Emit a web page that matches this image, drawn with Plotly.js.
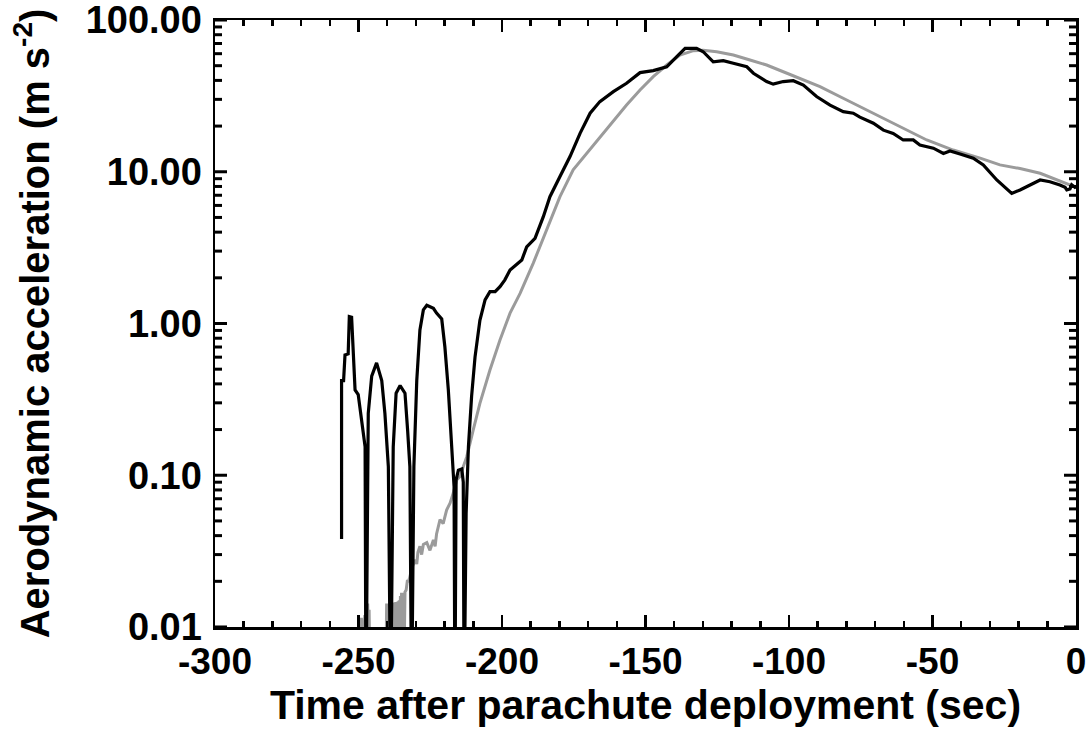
<!DOCTYPE html>
<html>
<head>
<meta charset="utf-8">
<script src="https://cdn.plot.ly/plotly-3.0.1.min.js"></script>
<style>html,body{margin:0;padding:0;background:#fff;}#chart{width:1087px;height:731px;}</style>
</head>
<body>
<div id="chart"></div>
<script>
// Measured aerodynamic acceleration (black)
const blackTime = [
  -255.9, -255.9, -255.2, -254.7, -253.6, -253.2, -252.4, -251.8, -251.2, -250.1,
  -248.9, -247.7, -247.4, -246.6, -245.4, -243.7, -241.9, -240.8, -239.6, -238.8,
  -237.9, -236.9, -235.5, -233.8, -232.9, -232.1, -231.5, -230.7, -229.7, -228.6,
  -227.4, -226.2, -223.9, -222.8, -221.0, -219.9, -218.7, -217.5, -216.7, -216.4,
  -216.0, -215.2, -214.0, -213.5, -213.2, -212.5, -211.7, -210.6, -209.4, -207.7,
  -205.9, -204.2, -202.4, -200.7, -199.0, -197.2, -193.1, -191.4, -188.5, -185.6,
  -183.3, -179.8, -176.3, -172.8, -169.3, -165.9, -161.2, -156.6, -151.9, -147.3,
  -142.6, -139.1, -136.2, -132.2, -129.9, -126.4, -122.9, -119.4, -114.7, -112.4,
  -107.8, -105.5, -102.0, -98.5, -95.0, -90.4, -85.7, -81.1, -77.6, -75.3,
  -70.6, -67.1, -63.7, -60.2, -56.7, -54.4, -49.7, -46.2, -43.9, -40.4,
  -35.8, -32.3, -27.6, -22.4, -19.5, -12.5, -9.1, -5.6, -3.8, -3.2,
  -2.1, -1.5, -0.4, 0
];
const blackAccel = [
  0.038, 0.42, 0.42, 0.62, 0.63, 1.11, 1.10, 0.70, 0.365, 0.34,
  0.23, 0.154, 0.003, 0.256, 0.45, 0.55, 0.42, 0.256, 0.114, 0.003,
  0.154, 0.347, 0.39, 0.347, 0.20, 0.114, 0.003, 0.114, 0.42, 0.906,
  1.23, 1.32, 1.26, 1.17, 1.07, 0.70, 0.365, 0.154, 0.084, 0.003,
  0.093, 0.108, 0.110, 0.09, 0.003, 0.056, 0.154, 0.33, 0.60, 1.05,
  1.43, 1.62, 1.62, 1.75, 1.94, 2.25, 2.62, 3.2, 3.64, 5.06,
  6.85, 9.3, 12.6, 17.9, 24.3, 29.0, 33.7, 38.3, 45.0, 46.4,
  49.2, 57.3, 65.0, 65.0, 61.8, 53.0, 54.0, 51.9, 49.2, 44.6,
  39.3, 37.8, 39.3, 39.8, 37.3, 31.3, 27.5, 24.9, 24.3, 22.9,
  20.9, 18.8, 17.9, 16.2, 16.2, 15.0, 14.3, 13.2, 13.7, 13.1,
  12.3, 11.1, 8.83, 7.2, 7.59, 8.83, 8.6, 8.18, 7.9, 7.6,
  7.7, 8.2, 7.9, 8.0
];

// Model aerodynamic acceleration (grey)
const greyTime = [
  -249.6, -249.0, -248.4, -247.8, -247.1, -246.8, -246.5, -246.3, -246.0,
  -240.4, -240.2, -240.0, -239.8, -239.6, -239.4, -239.2, -239.0, -238.8, -238.6,
  -238.4, -238.2, -238.0, -237.8, -237.6, -237.4, -237.2, -237.0, -236.8, -236.6,
  -236.4, -236.2, -236.0, -235.8, -235.6, -235.4, -235.2, -235.0, -234.8, -234.6,
  -234.4, -234.2, -234.0, -233.8, -233.4, -233.0, -232.6, -232.2, -231.8, -231.4,
  -230.3, -229.7, -229.3, -228.6, -228.0, -227.4, -226.2, -225.1,
  -223.9, -223.3, -222.8, -221.6, -220.5, -219.3, -218.1, -217.0, -215.8, -214.6,
  -213.5, -212.3, -210.0, -207.7, -204.2, -200.7, -197.2, -193.7, -189.1, -184.4,
  -179.8, -175.2, -170.5, -165.9, -161.2, -156.6, -151.9, -147.3, -142.6, -138.0,
  -133.3, -129.9, -125.2, -119.4, -113.6, -107.8, -102.0, -96.2, -89.2, -79.9,
  -70.6, -61.3, -52.0, -42.8, -33.4, -26.5, -19.5, -12.5, -6.7, -2.1,
  0
];
const greyAccel = [
  0.006, 0.0115, 0.007, 0.012, 0.006, 0.0143, 0.008, 0.013, 0.005,
  0.006, 0.0143, 0.006, 0.0140, 0.006, 0.0143, 0.006, 0.0138, 0.006, 0.0143,
  0.006, 0.0140, 0.006, 0.0145, 0.006, 0.0142, 0.006, 0.0146, 0.006, 0.0143,
  0.006, 0.0148, 0.006, 0.0150, 0.006, 0.0160, 0.006, 0.0168, 0.007, 0.0165,
  0.008, 0.0168, 0.009, 0.0170, 0.0175, 0.020, 0.0200, 0.021, 0.0235, 0.0245,
  0.0277, 0.026, 0.031, 0.034, 0.030, 0.035, 0.036, 0.032,
  0.0375, 0.034, 0.041, 0.051, 0.048, 0.059, 0.0655, 0.076, 0.093, 0.098,
  0.114, 0.132, 0.20, 0.298, 0.494, 0.778, 1.17, 1.58, 2.5, 4.13,
  6.85, 10.3, 13.2, 17.0, 21.9, 27.5, 34.6, 42.3, 50.5, 58.8,
  62.8, 63.3, 61.8, 58.8, 54.5, 50.5, 45.6, 41.3, 36.4, 29.7,
  24.3, 19.8, 16.2, 13.9, 12.3, 11.1, 10.5, 9.77, 8.83, 8.18,
  7.9
];

const xTickVals = [-300, -250, -200, -150, -100, -50, 0];
const xTickText = ["-300", "-250", "-200", "-150", "-100", "-50", "0"];
const yTickVals = [0.01, 0.1, 1, 10, 100];
const yTickText = ["0.01", "0.10", "1.00", "10.00", "100.00"];

const X_RANGE = [-300, 0];
const Y_RANGE = [-2.0001, 2.0001];

// y-axis tick marks (decades long, 2..9 short) drawn as short segments
// hugging the left and right frame, both ends computed from the axis range
const PX_PER_SEC = (1087 - 215 - 11) / (X_RANGE[1] - X_RANGE[0]);
const MAJOR_LEN = 12 / PX_PER_SEC, MINOR_LEN = 7 / PX_PER_SEC;
const yTickSegX = [], yTickSegY = [];
yTickVals.forEach(function (d, i) {
  const steps = i < yTickVals.length - 1 ? 9 : 1;
  for (let k = 1; k <= steps; k++) {
    const v = +(d * k).toPrecision(3);
    const len = k === 1 ? MAJOR_LEN : MINOR_LEN;
    yTickSegX.push(X_RANGE[0], X_RANGE[0] + len, null, X_RANGE[1], X_RANGE[1] - len, null);
    yTickSegY.push(v, v, null, v, v, null);
  }
});

const FONT = '"Liberation Sans", Arial, Helvetica, sans-serif';

const traces = [
  {x: greyTime, y: greyAccel, type: 'scatter', mode: 'lines',
   line: {color: '#9b9b9b', width: 3}, hoverinfo: 'skip'},
  {x: blackTime, y: blackAccel, type: 'scatter', mode: 'lines',
   line: {color: '#000000', width: 3.2}, hoverinfo: 'skip'},
  {x: yTickSegX, y: yTickSegY, type: 'scatter', mode: 'lines', connectgaps: false,
   line: {color: '#000000', width: 3}, hoverinfo: 'skip'}
];

const layout = {
  width: 1087, height: 731,
  margin: {l: 215, r: 11, t: 20, b: 104},
  paper_bgcolor: '#ffffff', plot_bgcolor: '#ffffff',
  showlegend: false,
  font: {family: FONT, color: '#000', weight: 'bold'},
  xaxis: {
    range: X_RANGE, showgrid: false, zeroline: false,
    showline: true, linecolor: '#000', linewidth: 2.5, mirror: 'ticks',
    ticks: 'inside', ticklen: 12, tickwidth: 2.5, tickcolor: '#000',
    tickmode: 'array', tickvals: xTickVals, ticktext: xTickText,
    tickfont: {size: 37, family: FONT, weight: 'bold'},
    ticklabeloverflow: 'allow',
    minor: {dtick: 10, ticks: 'inside', ticklen: 6, tickwidth: 2.5, tickcolor: '#000', showgrid: false},
    title: {text: 'Time after parachute deployment (sec)', font: {size: 41, family: FONT, weight: 'bold'}, standoff: 6},
    automargin: false
  },
  yaxis: {
    type: 'log', range: Y_RANGE, showgrid: false, zeroline: false,
    showline: true, linecolor: '#000', linewidth: 2.5, mirror: true,
    ticks: '', tickmode: 'array', tickvals: yTickVals, ticktext: yTickText,
    tickfont: {size: 38, family: FONT, weight: 'bold'},
    ticklabeloverflow: 'allow', ticklabelstandoff: 3,
    title: {text: 'Aerodynamic acceleration (m s<sup>-2</sup>)', font: {size: 40, family: FONT, weight: 'bold'}, standoff: 24},
    automargin: false
  }
};

Plotly.newPlot('chart', traces, layout, {staticPlot: true, displayModeBar: false});
</script>
</body>
</html>
